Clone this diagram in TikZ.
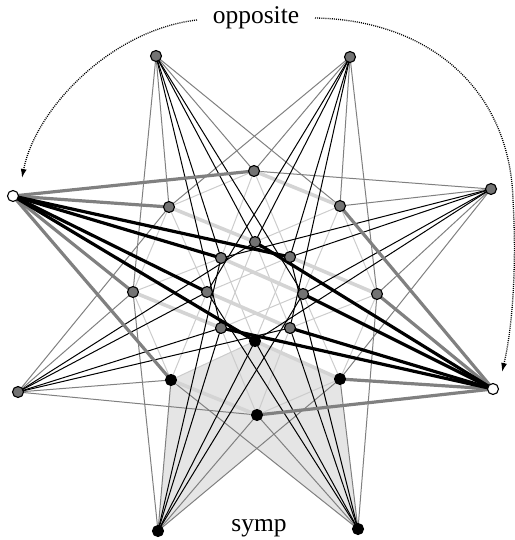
\documentclass[tikz,border=0pt]{standalone}
\usepackage{fontspec}
\setmainfont{Liberation Serif}
\usetikzlibrary{arrows.meta}
\definecolor{midgrey}{gray}{0.5}
\definecolor{lightgrey}{gray}{0.8}
\definecolor{thicklight}{gray}{0.83}
\definecolor{nodegrey}{gray}{0.45}
\definecolor{shadegrey}{gray}{0.9}
\tikzset{
  thinlight/.style={draw=lightgrey,line width=1pt},
  thingrey/.style={draw=midgrey,line width=1pt},
  thinblack/.style={draw=black,line width=1pt},
  fatlight/.style={draw=thicklight,line width=3.6pt},
  fatgrey/.style={draw=midgrey,line width=3.2pt},
  fatblack/.style={draw=black,line width=3.2pt},
  pt/.style={circle,draw=black,line width=1.1pt,inner sep=0pt,minimum size=11pt},
  gpt/.style={pt,fill=nodegrey},
  bpt/.style={pt,fill=black},
  wpt/.style={pt,fill=white},
  arc/.style={line width=1.3pt,dash pattern=on 1pt off 1.1pt,-{Latex[length=9pt,width=6pt]}},
  lbl/.style={font=\fontsize{25.5}{30}\selectfont,anchor=base,inner sep=0pt}
}
\begin{document}
\begin{tikzpicture}[x=1pt,y=-1pt]
\useasboundingbox (0,0) rectangle (514,540);
% positions
\coordinate (A1) at (156,56);
\coordinate (A2) at (350,57);
\coordinate (A3) at (491,189);
\coordinate (A4) at (493,389);
\coordinate (A5) at (358,529);
\coordinate (A6) at (158,531);
\coordinate (A7) at (18,392);
\coordinate (A8) at (13,196);
\coordinate (B1) at (254,171);
\coordinate (B2) at (340,206);
\coordinate (B3) at (377,294);
\coordinate (B4) at (340,379);
\coordinate (B5) at (257,415);
\coordinate (B6) at (171,380);
\coordinate (B7) at (133,292);
\coordinate (B8) at (169,207);
\coordinate (C1) at (255,242);
\coordinate (C2) at (290,257);
\coordinate (C3) at (303,294);
\coordinate (C4) at (290,328);
\coordinate (C5) at (255,341);
\coordinate (C6) at (221,328);
\coordinate (C7) at (207,292);
\coordinate (C8) at (221,258);
\coordinate (X) at (intersection of A6--B4 and A5--B6);
% symp
\fill[shadegrey] (B6) -- (C5) -- (B4) -- (A5) -- (X) -- (A6) -- cycle;
% thin light edges (middle/inner)
\foreach \a/\b in {B2/B3,B3/B4,B4/B5,B6/B7,B7/B8,B8/B1,
  B1/C2,B1/C8,B2/C3,B2/C1,B3/C4,B4/C3,B5/C6,B5/C4,B6/C7,B6/C5,B7/C8,B8/C7,
  C1/C4,C2/C5,C3/C6,C5/C8,C6/C1,C7/C2}
  \draw[thinlight] (\a) -- (\b);
% thin grey edges (outer-middle)
\foreach \a/\b in {A1/B7,A1/B8,A1/B1,A1/B2,A2/B8,A2/B1,A2/B2,A2/B3,
  A3/B1,A3/B2,A3/B3,A3/B4,A5/B3,A5/B4,A5/B5,A5/B6,
  A6/B4,A6/B5,A6/B6,A6/B7,A7/B5,A7/B6,A7/B7,A7/B8}
  \draw[thingrey] (\a) -- (\b);
% thick light edges
\foreach \a/\b in {B1/B2,B5/B6,B8/C1,B3/C2,B7/C6,B4/C5,C4/C7,C8/C3}
  \draw[fatlight] (\a) -- (\b);
% thin black edges (outer-inner)
\foreach \a/\b in {A1/C6,A1/C8,A1/C1,A1/C3,A2/C7,A2/C1,A2/C2,A2/C4,
  A3/C8,A3/C2,A3/C3,A3/C5,A5/C2,A5/C4,A5/C5,A5/C7,
  A6/C3,A6/C5,A6/C6,A6/C8,A7/C4,A7/C6,A7/C7,A7/C1}
  \draw[thinblack] (\a) -- (\b);
% thick grey edges
\foreach \a/\b in {A4/B2,A4/B3,A4/B4,A4/B5,A8/B6,A8/B7,A8/B8,A8/B1}
  \draw[fatgrey] (\a) -- (\b);
% thick black edges
\foreach \a/\b in {A4/C1,A4/C3,A4/C4,A4/C6,A8/C5,A8/C7,A8/C8,A8/C2}
  \draw[fatblack] (\a) -- (\b);
% points
\foreach \n in {A1,A2,A3,A7,B1,B2,B3,B7,B8,C1,C2,C3,C4,C6,C7,C8}
  \node[gpt] (p\n) at (\n) {};
\foreach \n in {A5,A6,B4,B5,B6,C5}
  \node[bpt] (p\n) at (\n) {};
\foreach \n in {A4,A8}
  \node[wpt] (p\n) at (\n) {};
% labels
\node[lbl] (opp) at (256,24) {opposite};
\node[lbl] (symp) at (259,531) {symp};
\coordinate (oL) at (197,20);
\coordinate (tL) at (22,178);
\coordinate (oR) at (315,18);
\coordinate (mR) at (513,200);
\coordinate (tR) at (502,372);
\draw[arc] (oL) .. controls (110,30) and (35,110) .. (tL);
\draw[arc] (oR) .. controls (430,20) and (510,90) .. (mR) .. controls (517,270) and (512,330) .. (tR);
\end{tikzpicture}
\end{document}
